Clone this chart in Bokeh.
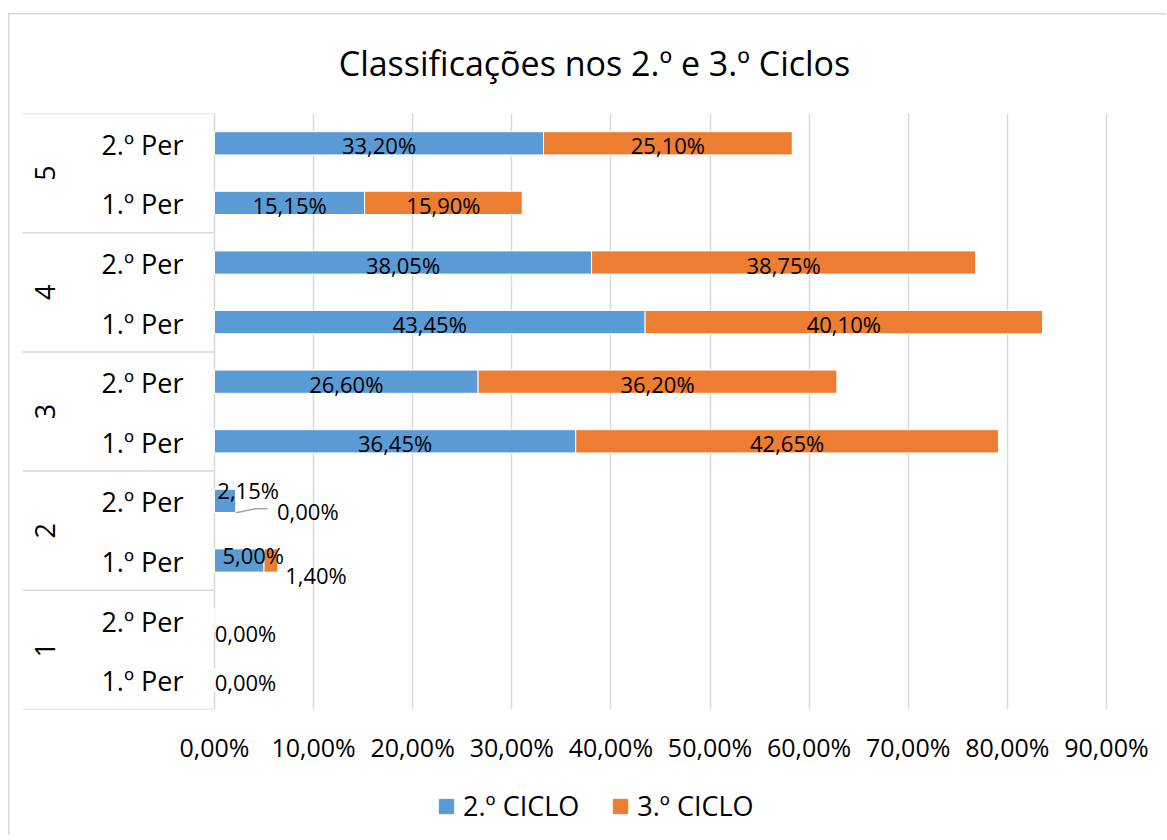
from bokeh.plotting import figure
from bokeh.layouts import column
from bokeh.models import (FactorRange, Range1d, ColumnDataSource, FixedTicker, Legend,
                          LegendItem)
from bokeh.core.properties import value
from bokeh.embed import file_html
from bokeh.resources import INLINE

# ---------------- data ----------------
title_text = "Classificações nos 2.º e 3.º Ciclos"
groups = ["1", "2", "3", "4", "5"]
periods = ["1.º Per", "2.º Per"]
series_names = ["2.º CICLO", "3.º CICLO"]
ciclo2 = [0.00, 0.00, 5.00, 2.15, 36.45, 26.60, 43.45, 38.05, 15.15, 33.20]
ciclo3 = [0.00, 0.00, 1.40, 0.00, 42.65, 36.20, 40.10, 38.75, 15.90, 25.10]
x_ticks = [0, 10, 20, 30, 40, 50, 60, 70, 80, 90]
tick_labels = ["0,00%", "10,00%", "20,00%", "30,00%", "40,00%", "50,00%",
               "60,00%", "70,00%", "80,00%", "90,00%"]

# ---------------- style ----------------
FONT = "Open Sans"
BLUE = "#5B9BD5"
ORANGE = "#ED7D31"
GRID = "#d9d9d9"
TXT = "#000000"
X0, X1 = -19.37, 96.06
LINE = "linear-gradient(#d9d9d9, #d9d9d9)"


def pct(v):
    return f"{v:.2f}".replace(".", ",") + "%"


factors = [(g, per) for g in groups for per in periods]

p = figure(frame_width=1144, frame_height=596,
           x_range=Range1d(X0, X1),
           y_range=FactorRange(*factors, group_padding=0, range_padding=0, subgroup_padding=0),
           output_backend="svg", toolbar_location=None,
           min_border_left=22, min_border_right=0, min_border_top=113, min_border_bottom=66)
p.outline_line_color = None
p.background_fill_color = "white"
p.border_fill_alpha = 0
p.styles = {"background": (f"{LINE} 8px 13px / 100% 1.5px no-repeat, "
                           f"{LINE} 8px 13px / 1.5px 100% no-repeat, white")}

# title
p.title.text = title_text
p.title.align = "center"
p.title.text_font = FONT
p.title.text_font_size = "34px"
p.title.text_font_style = "normal"
p.title.text_color = TXT
p.title.standoff = 56

# axes
p.yaxis.visible = False
p.xaxis.ticker = FixedTicker(ticks=x_ticks)
p.xaxis.major_label_overrides = {t: l for t, l in zip(x_ticks, tick_labels)}
p.xaxis.axis_line_color = None
p.xaxis.major_tick_line_color = None
p.xaxis.minor_tick_line_color = None
p.xaxis.major_label_text_font = FONT
p.xaxis.major_label_text_font_size = "25px"
p.xaxis.major_label_text_color = TXT
p.xaxis.major_label_standoff = 14
p.xgrid.ticker = FixedTicker(ticks=x_ticks)
p.xgrid.grid_line_color = GRID
p.xgrid.grid_line_width = 1.5
p.ygrid.visible = False

# bars
src = ColumnDataSource(dict(cat=factors, c2=ciclo2, c3=ciclo3))
rends = p.hbar_stack(["c2", "c3"], y="cat", height=0.39, color=[BLUE, ORANGE],
                     line_color="white", line_width=1, source=src)

# data labels
lab_x, lab_y, lab_t, lab_dx, lab_dy = [], [], [], [], []
special = {  # (row, series): (x_offset px, y_offset px)
    (2, 0): (14, -6), (2, 1): (45, 14),
    (3, 0): (23, -11), (3, 1): (72, 10),
    (0, 1): (31, 2), (1, 1): (31, 13),
}
for i, f in enumerate(factors):
    a, b = ciclo2[i], ciclo3[i]
    for s, (xc, v) in enumerate([(a / 2, a), (a + b / 2, b)]):
        if a == 0 and b == 0 and s == 0:
            continue  # both labels coincide; draw one
        dx, dy = special.get((i, s), (0, 2))
        lab_x.append(xc)
        lab_y.append(f)
        lab_t.append(pct(v))
        lab_dx.append(dx)
        lab_dy.append(dy)
p.text(x="x", y="y", text="t", x_offset="dx", y_offset="dy",
       source=ColumnDataSource(dict(x=lab_x, y=lab_y, t=lab_t, dx=lab_dx, dy=lab_dy)),
       text_font=value(FONT), text_font_size="22px", text_color=TXT,
       text_align="center", text_baseline="middle")

# leader line for the zero label in group 2 / 2.º Per
row = 3
xe = ciclo2[row] + ciclo3[row]
p.line(x=[xe, xe + 2.0, xe + 3.2], y=[row + 0.3, row + 0.37, row + 0.37],
       line_color="#a6a6a6", line_width=1.5)

# category axis drawn in-frame
p.text(x=[0] * len(factors), y=factors, text=[f[1] for f in factors],
       x_offset=-31, y_offset=1,
       text_font=value(FONT), text_font_size="27px", text_color=TXT,
       text_align="right", text_baseline="middle")
p.text(x=[0] * len(groups), y=groups, text=groups, x_offset=-169, y_offset=0, angle=1.5708,
       text_font=value(FONT), text_font_size="27px", text_color=TXT,
       text_align="center", text_baseline="middle")
sep_y = [2 * k for k in range(len(groups) + 1)]
p.segment(x0=[X0] * len(sep_y), x1=[0] * len(sep_y), y0=sep_y, y1=sep_y,
          line_color=GRID, line_width=1.5)

# legend strip (separate small figure below the chart)
lg = figure(width=1166, height=60, x_range=Range1d(0, 1), y_range=Range1d(0, 1),
            output_backend="svg", toolbar_location=None, min_border=0)
lg.axis.visible = False
lg.grid.visible = False
lg.outline_line_color = None
lg.background_fill_alpha = 0
lg.border_fill_alpha = 0
lg.styles = {"background": f"{LINE} 8px 0px / 1.5px 100% no-repeat, white"}
# legend swatches: one off-range bar per series so the legend glyph is drawn
offrange = ColumnDataSource(dict(y=[-10], l=[0], r=[1]))
dummies = [lg.hbar(y="y", left="l", right="r", height=0.5, color=c, source=offrange)
           for c in (BLUE, ORANGE)]
legend = Legend(items=[LegendItem(label=n, renderers=[r], index=0)
                       for n, r in zip(series_names, dummies)],
                orientation="horizontal", location=(415, 11),
                label_text_font=FONT, label_text_font_size="27px", label_text_color=TXT,
                glyph_width=18, glyph_height=18, label_standoff=8, spacing=32,
                border_line_color=None, background_fill_alpha=0, padding=0, margin=0)
lg.add_layout(legend)

open("out.html", "w").write(file_html(column(p, lg, spacing=0), INLINE))
